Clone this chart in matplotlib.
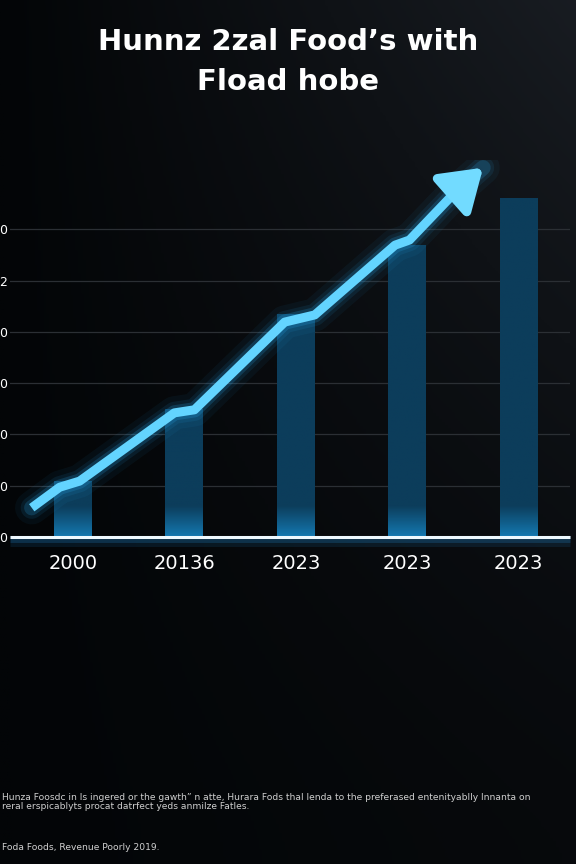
import numpy as np
import matplotlib.pyplot as plt
from matplotlib.colors import LinearSegmentedColormap

# ---- data ----
years = ["2000", "20136", "2023", "2023", "2023"]
bar_values = [1.1, 2.5, 4.35, 5.7, 6.6]
trend_x = [-0.37, -0.12, 0.06, 0.91, 1.09, 1.90, 2.17, 2.89, 3.02, 3.42]
trend_y = [0.57, 0.97, 1.09, 2.42, 2.48, 4.19, 4.33, 5.69, 5.79, 6.7]
arrow_tip = (3.68, 7.2)
ytick_vals = [0, 1, 2, 3, 4, 5, 6]
ytick_labels = ["0", "0", "0", "0", "0", "2", "0"]

title = "Hunnz 2zal Food\u2019s with\nFload hobe"
note = ("Hunza Foosdc in ls ingered or the gawth\u201d n atte, Hurara Fods thal lenda to the preferased "
        "entenityablly lnnanta on\nreral erspicablyts procat datrfect yeds anmilze Fatles.")
source = "Foda Foods, Revenue Poorly 2019."

fig = plt.figure(figsize=(5.76, 8.64), dpi=100)

# background gradient, a bit lighter towards the upper right
bg = fig.add_axes([0, 0, 1, 1])
xx, yy = np.meshgrid(np.linspace(0, 1, 200), np.linspace(0, 1, 300))
grad = 0.5 * xx * yy ** 1.5 + 0.12 * xx
bg.imshow(grad, extent=[0, 1, 0, 1], origin="lower", aspect="auto",
          cmap=LinearSegmentedColormap.from_list("bg", ["#030507", "#1b1f25"]),
          vmin=0, vmax=0.7)
bg.set_axis_off()

# main axes: left 10px, right 570px, bottom y=537px, top y=160px
H = 864.0
ax = fig.add_axes([10 / 576, (H - 537) / H, 560 / 576, (537 - 160) / H])
ax.set_facecolor("none")
ax.set_xlim(-0.565, 4.46)
ax.set_ylim(0, 7.35)

for v in ytick_vals[1:]:
    ax.axhline(v, color="#2b2f34", lw=0.9, zorder=1)

x = np.arange(len(years))
bars = ax.bar(x, bar_values, width=0.34, color="#0c3d5b", zorder=2)
for b in bars:
    bx, h = b.get_x(), b.get_height()
    ramp = np.clip(1 - np.linspace(0, h, 200) / 0.6, 0, 1).reshape(-1, 1)
    im = ax.imshow(ramp, extent=[bx, bx + b.get_width(), 0, h], origin="lower", aspect="auto",
                   zorder=2.1, vmin=0, vmax=1,
                   cmap=LinearSegmentedColormap.from_list("bar", ["#0c3d5b", "#1478b0"]))
    im.set_clip_path(b)

# glow for the trend line
gx = trend_x + [arrow_tip[0]]
gy = trend_y + [arrow_tip[1]]
for lw, a in [(24, 0.05), (16, 0.09), (11, 0.18)]:
    ax.plot(gx, gy, color="#2ab4ff", lw=lw, alpha=a, solid_capstyle="round", zorder=3)
ax.plot(trend_x, trend_y, color="#63d4ff", lw=6.5, solid_capstyle="butt", zorder=4)

# arrow head
ax.annotate("", xy=arrow_tip, xytext=(trend_x[-1], trend_y[-1]),
            arrowprops=dict(arrowstyle="-|>,head_length=1.2,head_width=0.8", color="#72dbff",
                            lw=6.5, shrinkA=0, shrinkB=0, mutation_scale=20), zorder=5)

# baseline with a soft glow underneath
for off, lw, a in [(-0.07, 8, 0.10), (-0.035, 5, 0.18)]:
    ax.axhline(off, color="#2aa8ff", lw=lw, alpha=a, zorder=5, clip_on=False,
               solid_capstyle="butt")
ax.axhline(0, color="#eef9ff", lw=2.2, zorder=6, clip_on=False, solid_capstyle="butt")

ax.set_xticks(x)
ax.set_xticklabels(years, color="white", fontsize=14)
ax.tick_params(axis="x", length=0, pad=12)
ax.set_yticks(ytick_vals)
ax.set_yticklabels(ytick_labels, color="white", fontsize=9)
ax.tick_params(axis="y", length=0, pad=2)
for s in ax.spines.values():
    s.set_visible(False)

fig.text(0.5, 1 - 62 / H, title, ha="center", va="center", color="white",
         fontsize=21, fontweight="semibold", linespacing=1.55)
fig.text(2 / 576, 1 - 802 / H, note, ha="left", va="center", color="#d0d0d0", fontsize=6.6,
         linespacing=1.1)
fig.text(2 / 576, 1 - 847 / H, source, ha="left", va="center", color="#d0d0d0", fontsize=6.6)

fig.savefig("out.png", dpi=100)
